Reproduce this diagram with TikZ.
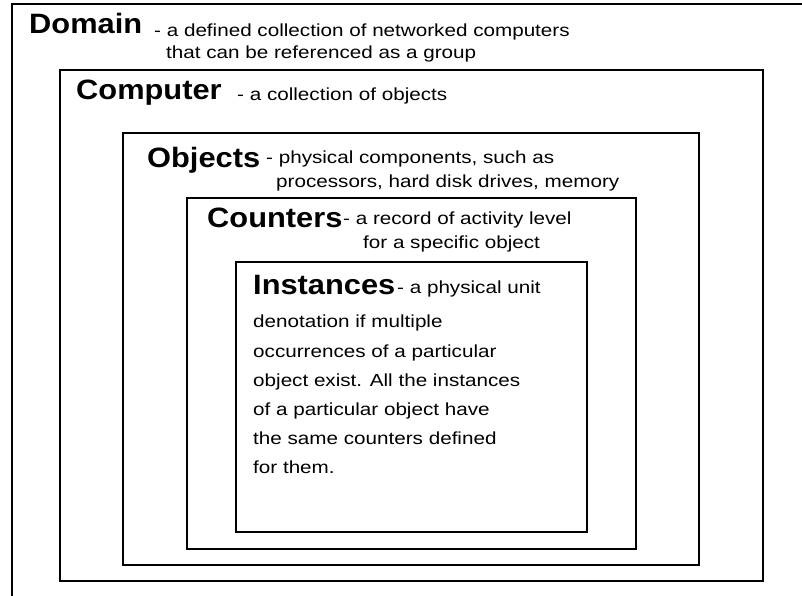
\documentclass[tikz,border=0pt]{standalone}
\usepackage{fontspec}
\setmainfont{Liberation Sans}
\newfontfamily\headfont[FakeStretch=1.1]{Liberation Sans}
\newfontfamily\descfont[FakeStretch=1.18]{Liberation Sans}
\tikzstyle{layer}=[draw, line width=1.8pt]
\tikzstyle{heading}=[inner sep=0pt, anchor=base west, font=\headfont\bfseries\fontsize{28}{32}\selectfont]
\tikzstyle{note}=[inner sep=0pt, anchor=base west, font=\descfont\fontsize{17.5}{21}\selectfont]

\begin{document}
\begin{tikzpicture}[x=1pt, y=-1pt]
\useasboundingbox (0,0) rectangle (802,595);
% nested layers, domain runs off the page
\draw[layer] (12,4) rectangle (814,607);
\draw[layer] (60,70) rectangle (763,581);
\draw[layer] (123,133) rectangle (699,565);
\draw[layer] (187,198) rectangle (636,549);
\draw[layer] (236,262) rectangle (587,532);
% domain
\node[heading] at (29,33) (domain) {Domain};
\node[note] at (154,36) (domaina) {- a defined collection of networked computers};
\node[note] at (166,58) (domainb) {that can be referenced as a group};
% computer
\node[heading] at (76,99) (computer) {Computer};
\node[note] at (237,100) (computera) {- a collection of objects};
% objects
\node[heading] at (147,167) (objects) {Objects};
\node[note] at (266,163) (objectsa) {- physical components, such as};
\node[note] at (276,187) (objectsb) {processors, hard disk drives, memory};
% counters
\node[heading] at (207,227) (counters) {Counters};
\node[note] at (343,224) (countersa) {- a record of activity level};
\node[note] at (363,248) (countersb) {for a specific object};
% instances
\node[heading] at (253,294) (instances) {Instances};
\node[note] at (397,293) (instancesa) {- a physical unit};
\foreach \y/\txt in {327/denotation if multiple, 357/occurrences of a particular,
  386/object exist. All the instances, 415/of a particular object have,
  444/the same counters defined, 473/for them.}
  \node[note] at (253,\y) (inst\y) {\txt};
\end{tikzpicture}
\end{document}
